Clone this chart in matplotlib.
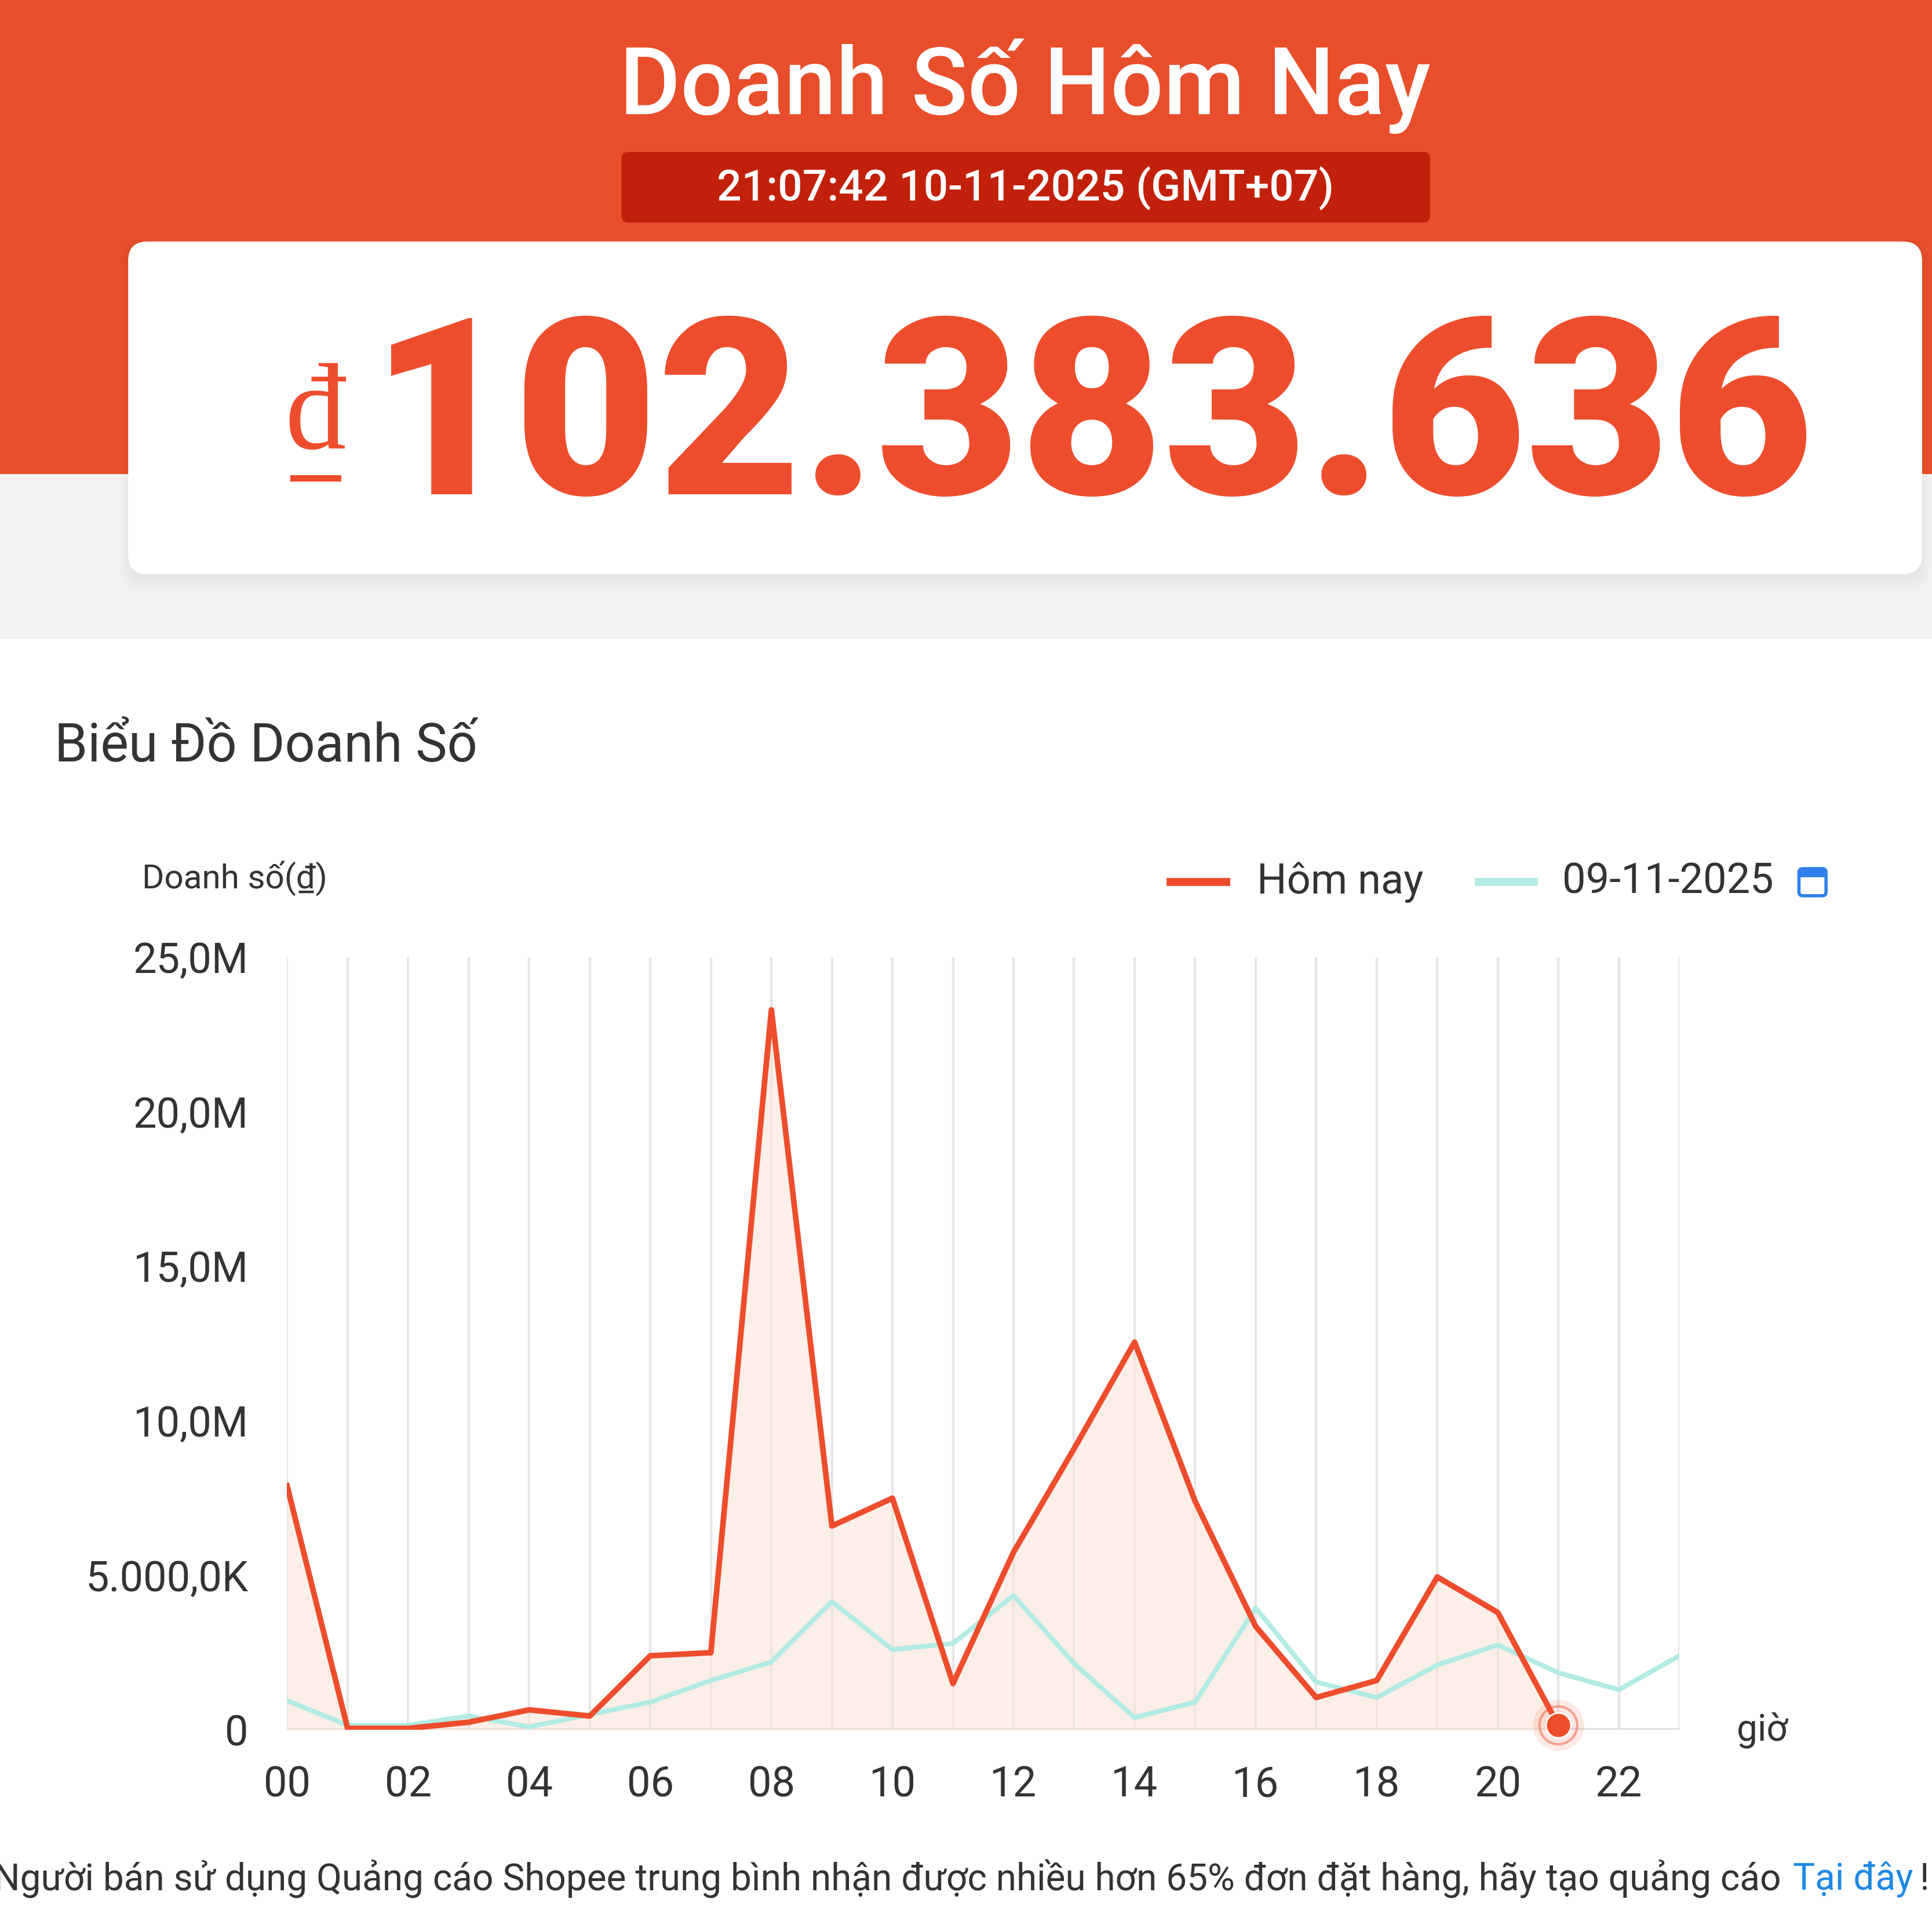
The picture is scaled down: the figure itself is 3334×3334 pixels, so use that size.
import numpy as np
import matplotlib
matplotlib.use("Agg")
import matplotlib.pyplot as plt
from matplotlib.patches import FancyBboxPatch, Rectangle

plt.rcParams['font.family'] = ['Roboto', 'DejaVu Sans']

# data (million dong per hour)
hours_today = list(range(22))
sales_today = [7.9, 0.05, 0.05, 0.25, 0.65, 0.45, 2.4, 2.5, 23.3, 6.6, 7.5, 1.5,
               5.75, 9.1, 12.55, 7.4, 3.35, 1.05, 1.6, 4.95, 3.8, 0.15]
hours_prev = list(range(24))
sales_prev = [0.95, 0.15, 0.15, 0.45, 0.1, 0.5, 0.9, 1.6, 2.2, 4.15, 2.6, 2.8,
              4.35, 2.15, 0.4, 0.9, 3.95, 1.55, 1.05, 2.1, 2.75, 1.85, 1.3, 2.4]
y_ticks = [0, 5, 10, 15, 20, 25]
y_labels = ['0', '5.000,0K', '10,0M', '15,0M', '20,0M', '25,0M']
x_ticks = list(range(0, 24, 2))
x_labels = ['%02d' % h for h in x_ticks]

ORANGE = '#E84E2B'
RED = '#EE4D2D'
TEAL = '#B2EBE3'
W = 1568.0

fig = plt.figure(figsize=(16.67, 16.67), dpi=200)
fig.patch.set_facecolor('white')

def fx(x): return x / W
def fy(y): return 1 - y / W

# header background
fig.add_artist(Rectangle((0, fy(385)), 1, 385 / W, transform=fig.transFigure, color=ORANGE, zorder=0))
fig.add_artist(Rectangle((0, fy(518)), 1, 133 / W, transform=fig.transFigure, color='#F2F2F4', zorder=0))
fig.text(fx(832), fy(70), 'Doanh Số Hôm Nay', color='white', fontsize=58, fontweight='medium',
         ha='center', va='center')
fig.add_artist(FancyBboxPatch((fx(505), fy(180)), fx(655), 56 / W, boxstyle='round,pad=0,rounding_size=0.003',
                              transform=fig.transFigure, color='#C2200A', zorder=1))
fig.text(fx(832), fy(153), '21:07:42 10-11-2025 (GMT+07)', color='white', fontsize=27,
         fontweight='medium', ha='center', va='center')

# card with soft shadow
for i in range(4):
    fig.add_artist(FancyBboxPatch((fx(104 - 2 * i), fy(466 + 4 + 3 * i)), fx(1456 + 4 * i), (272 + 4 * i) / W,
                                  boxstyle='round,pad=0,rounding_size=0.01', transform=fig.transFigure,
                                  color='black', alpha=0.012, lw=0, zorder=1))
fig.add_artist(FancyBboxPatch((fx(104), fy(466)), fx(1456), 270 / W, boxstyle='round,pad=0,rounding_size=0.01',
                              transform=fig.transFigure, color='white', lw=0, zorder=2))
fig.text(fx(256), fy(340), 'đ', color=RED, fontsize=76, family='Liberation Serif',
         ha='center', va='center', zorder=3)
fig.add_artist(plt.Line2D([fx(238), fx(274)], [fy(388)] * 2, color=RED, lw=4,
                          transform=fig.transFigure, zorder=3))
fig.text(fx(886), fy(346), '102.383.636', color=RED, fontsize=154, fontweight='black',
         ha='center', va='center', zorder=3)

# chart section
fig.text(fx(44), fy(606), 'Biểu Đồ Doanh Số', color='#333333', fontsize=33, ha='left', va='center')
fig.text(fx(115), fy(713), 'Doanh số(₫)', color='#333333', fontsize=21, ha='left', va='center')

ax = fig.add_axes([fx(233), fy(1404), fx(1130), 627 / W])
ax.set_xlim(0, 23)
ax.set_ylim(0, 25)
for h in range(24):
    ax.axvline(h, color='#E6E6E6', lw=1.5, zorder=0)
ax.axhline(0, color='#DDDDDD', lw=2, zorder=1)
ax.fill_between(hours_today, sales_today, 0, color='#FBE3D6', alpha=0.55, lw=0, zorder=1)
ax.plot(hours_prev, sales_prev, color=TEAL, lw=3, zorder=2)
ax.plot(hours_today, sales_today, color=RED, lw=3.5, zorder=3)
lx, ly = hours_today[-1], sales_today[-1]
ax.scatter([lx], [ly], s=1000, color=RED, alpha=0.12, zorder=4, lw=0, clip_on=False)
ax.scatter([lx], [ly], s=550, facecolor='none', edgecolor=RED, alpha=0.45, lw=1.5, zorder=4, clip_on=False)
ax.scatter([lx], [ly], s=240, color=RED, zorder=5, edgecolor='white', lw=1, clip_on=False)
for s in ax.spines.values():
    s.set_visible(False)
ax.set_yticks(y_ticks)
ax.set_yticklabels(y_labels)
ax.set_xticks(x_ticks)
ax.set_xticklabels(x_labels)
ax.tick_params(length=0, labelsize=26, colors='#333333', pad=22)
ax.tick_params(axis='y', pad=24)
ax.set_facecolor('none')
fig.text(fx(1430), fy(1404), 'giờ', color='#333333', fontsize=23, ha='center', va='center')

# legend
fig.add_artist(plt.Line2D([fx(950), fx(995)], [fy(716)] * 2, color=RED, lw=5, transform=fig.transFigure))
fig.text(fx(1020), fy(716), 'Hôm nay', color='#333333', fontsize=26, ha='left', va='center')
fig.add_artist(plt.Line2D([fx(1200), fx(1245)], [fy(716)] * 2, color=TEAL, lw=5, transform=fig.transFigure))
fig.text(fx(1268), fy(716), '09-11-2025', color='#333333', fontsize=26, ha='left', va='center')
fig.add_artist(FancyBboxPatch((fx(1460), fy(727)), fx(22), 22 / W, boxstyle='round,pad=0,rounding_size=0.002',
                              transform=fig.transFigure, facecolor='none', edgecolor='#2F80ED', lw=2))
fig.add_artist(Rectangle((fx(1460), fy(711)), fx(22), 5 / W, transform=fig.transFigure, color='#2F80ED'))

# footer
fig.text(fx(-5), fy(1525), 'Người bán sử dụng Quảng cáo Shopee trung bình nhận được nhiều hơn 65% đơn đặt hàng, hãy tạo quảng cáo',
         color='#333333', fontsize=23, ha='left', va='center')
fig.text(fx(1455), fy(1525), 'Tại đây', color='#1E88E5', fontsize=23, ha='left', va='center')
fig.text(fx(1558), fy(1525), '!', color='#333333', fontsize=23, ha='left', va='center')

fig.savefig('out.png', dpi=200)
